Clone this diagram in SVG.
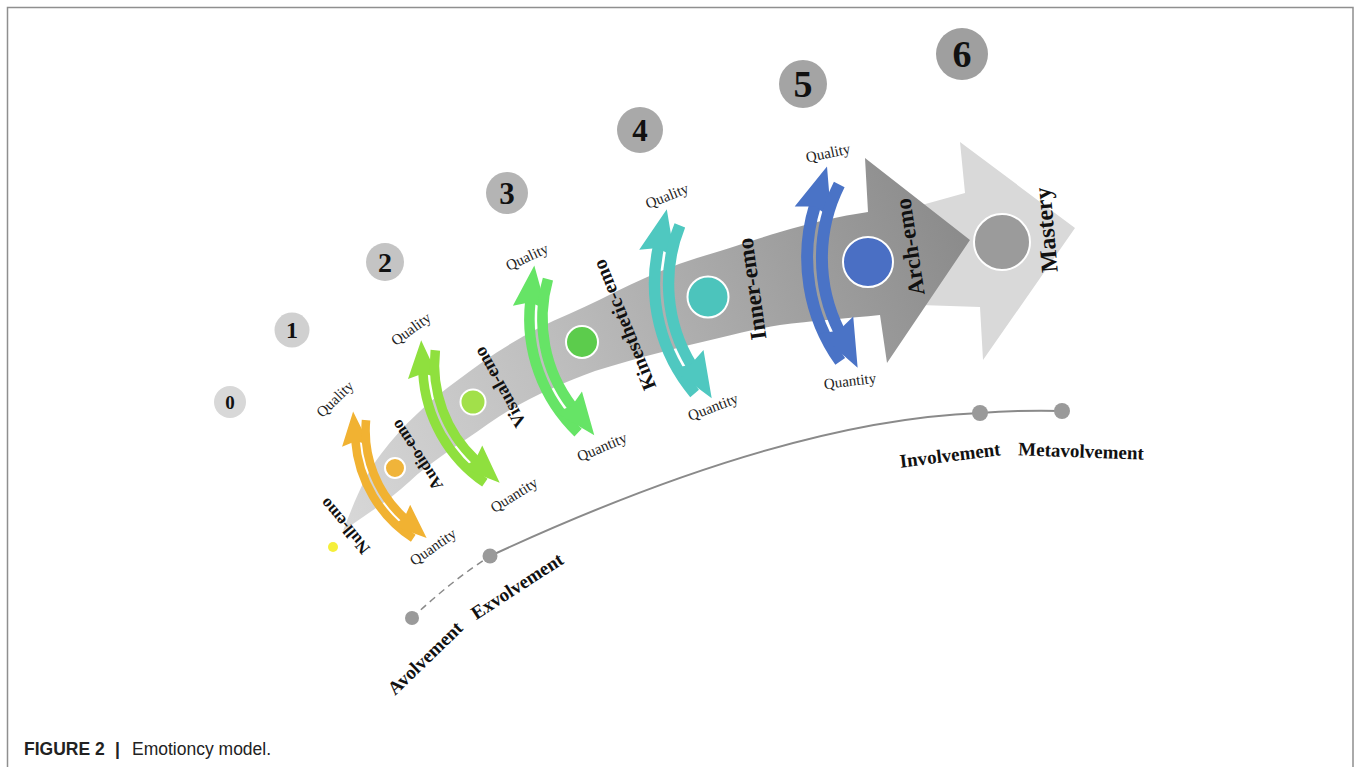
<svg xmlns="http://www.w3.org/2000/svg" width="1354" height="767" viewBox="0 0 1354 767">
<defs>
<style>
.q{font-family:"Liberation Serif",serif;font-size:15px;fill:#222;text-anchor:middle;dominant-baseline:central}
.emo{font-family:"Liberation Serif",serif;font-weight:bold;fill:#111;text-anchor:middle;dominant-baseline:central}
.num{font-family:"Liberation Serif",serif;font-weight:bold;fill:#111;text-anchor:middle}
.stage{font-family:"Liberation Serif",serif;font-weight:bold;font-size:19px;fill:#111;text-anchor:middle;dominant-baseline:central}
.ncirc{stroke:none}
.dot{fill:#9a9a9a}
.arc{fill:none;stroke-width:6}
.emoc{stroke:#fff;stroke-width:2}
</style>
<linearGradient id="band" gradientUnits="userSpaceOnUse" x1="340" y1="530" x2="960" y2="240">
<stop offset="0" stop-color="#d8d8d8"/>
<stop offset="0.4" stop-color="#bdbdbd"/>
<stop offset="0.75" stop-color="#a0a0a0"/>
<stop offset="1" stop-color="#8c8c8c"/>
</linearGradient>
<marker id="hOr" markerUnits="strokeWidth" markerWidth="5" markerHeight="6" viewBox="-1 -3 5 6" refX="0" refY="0" orient="auto" overflow="visible"><path d="M-0.6,-1.6 L3.4,0 L-0.6,1.6 L-0.1,0 z" fill="#f1b232"/></marker>
<marker id="hYg" markerUnits="strokeWidth" markerWidth="5" markerHeight="6" viewBox="-1 -3 5 6" refX="0" refY="0" orient="auto" overflow="visible"><path d="M-0.6,-1.6 L3.4,0 L-0.6,1.6 L-0.1,0 z" fill="#8fe03e"/></marker>
<marker id="hGr" markerUnits="strokeWidth" markerWidth="5" markerHeight="6" viewBox="-1 -3 5 6" refX="0" refY="0" orient="auto" overflow="visible"><path d="M-0.6,-1.6 L3.4,0 L-0.6,1.6 L-0.1,0 z" fill="#66e466"/></marker>
<marker id="hTe" markerUnits="strokeWidth" markerWidth="5" markerHeight="6" viewBox="-1 -3 5 6" refX="0" refY="0" orient="auto" overflow="visible"><path d="M-0.6,-1.6 L3.4,0 L-0.6,1.6 L-0.1,0 z" fill="#4fc8c0"/></marker>
<marker id="hBl" markerUnits="strokeWidth" markerWidth="5" markerHeight="6" viewBox="-1 -3 5 6" refX="0" refY="0" orient="auto" overflow="visible"><path d="M-0.6,-1.6 L3.4,0 L-0.6,1.6 L-0.1,0 z" fill="#4a73c6"/></marker>
</defs>
<rect width="1354" height="767" fill="#fff"/>
<g id="frame" fill="none" stroke="#8f8f8f" stroke-width="1.5">
<path d="M7.5,767 V7.5 H1353 V767"/>
</g>

<g id="mastery-arrow">
<path d="M850,225 L965,193 L960,142 L1075,228 L983,360 L980,307 L860,303 Z" fill="#d9d9d9"/>
</g>
<g id="band-arrow">
<path d="M343,531 C355,500 365,475 381,454 C403,425 430,400 458,380 C490,355 530,330 569,314 C610,296 650,272 697,258 C730,248 760,238 780,232 C810,223 840,216 868,212 L865,158 L970,240 L887,363 L880,315 C850,318 810,321 780,325 C760,328 740,333 719,338 C680,347 640,357 595,371 C560,384 520,401 488,424 C460,444 430,462 409,482 C390,500 365,515 343,531 Z" fill="url(#band)"/>
</g>

<g id="connectors" fill="none" stroke="#8a8a8a" stroke-width="2">
<path d="M412,618 Q450,582 490,556" stroke-dasharray="7,5" stroke-width="1.5"/>
<path d="M490,556 C600,505 800,420 980,413"/>
<path d="M980,413 Q1020,410 1062,411"/>
</g>

<g id="stage-avolvement"><circle class="dot" cx="412" cy="618" r="7"/><text class="stage" transform="translate(425,658) rotate(-44)">Avolvement</text></g>
<g id="stage-exvolvement"><circle class="dot" cx="490" cy="556" r="7.5"/><text class="stage" transform="translate(517,586) rotate(-33)">Exvolvement</text></g>
<g id="stage-involvement"><circle class="dot" cx="980" cy="413" r="8"/><text class="stage" transform="translate(950,455) rotate(-7)">Involvement</text></g>
<g id="stage-metavolvement"><circle class="dot" cx="1062" cy="411" r="8"/><text class="stage" transform="translate(1081,451) rotate(2)">Metavolvement</text></g>

<g id="null-emo">
<circle cx="333" cy="547" r="5" fill="#f5ef3a"/>
<text class="emo" font-size="17" transform="translate(345,526) rotate(-130)">Null-emo</text>
</g>

<g id="audio-emo">
<g transform="translate(394,476) rotate(-26.9) scale(1.43)">
<path class="arc" stroke="#f1b232" d="M-7.67,44.9 A89.8,89.8 0 0 1 -12.87,-34.37" marker-end="url(#hOr)"/>
<path class="arc" stroke="#f1b232" d="M0.22,-43.66 A82.4,82.4 0 0 0 -6.67,29.94" marker-end="url(#hOr)"/>
</g>
<circle class="emoc" cx="395" cy="468" r="10" fill="#f0b43a"/>
<text class="emo" font-size="17" transform="translate(417,455) rotate(-123)">Audio-emo</text>
<text class="q" transform="translate(335,399) rotate(-44)">Quality</text>
<text class="q" transform="translate(433,547) rotate(-35)">Quantity</text>
</g>

<g id="visual-emo">
<g transform="translate(465,413) rotate(-25.6) scale(1.59)">
<path class="arc" stroke="#8fe03e" d="M-7.67,44.9 A89.8,89.8 0 0 1 -12.87,-34.37" marker-end="url(#hYg)"/>
<path class="arc" stroke="#8fe03e" d="M0.22,-43.66 A82.4,82.4 0 0 0 -6.67,29.94" marker-end="url(#hYg)"/>
</g>
<circle class="emoc" cx="473" cy="402" r="12.5" fill="#a2e04a"/>
<text class="emo" font-size="18.5" transform="translate(500,387) rotate(-119)">Visual-emo</text>
<text class="q" transform="translate(411,329) rotate(-36)">Quality</text>
<text class="q" transform="translate(514,495) rotate(-32)">Quantity</text>
</g>

<g id="kinesthetic-emo">
<g transform="translate(569,353) rotate(-16.2) scale(1.76)">
<path class="arc" stroke="#66e466" d="M-7.67,44.9 A89.8,89.8 0 0 1 -12.87,-34.37" marker-end="url(#hGr)"/>
<path class="arc" stroke="#66e466" d="M0.22,-43.66 A82.4,82.4 0 0 0 -6.67,29.94" marker-end="url(#hGr)"/>
</g>
<circle class="emoc" cx="582" cy="342" r="16" fill="#5ccc4c"/>
<text class="emo" font-size="20" transform="translate(624,325) rotate(-112)">Kinesthetic-emo</text>
<text class="q" transform="translate(527,257) rotate(-25)">Quality</text>
<text class="q" transform="translate(602,447) rotate(-23)">Quantity</text>
</g>

<g id="inner-emo">
<g transform="translate(694,307) rotate(-10.1) scale(1.9)">
<path class="arc" stroke="#4fc8c0" d="M-7.67,44.9 A89.8,89.8 0 0 1 -12.87,-34.37" marker-end="url(#hTe)"/>
<path class="arc" stroke="#4fc8c0" d="M0.22,-43.66 A82.4,82.4 0 0 0 -6.67,29.94" marker-end="url(#hTe)"/>
</g>
<circle class="emoc" cx="708" cy="297" r="20.5" fill="#4cc4bc"/>
<text class="emo" font-size="23" transform="translate(752,289) rotate(-98)">Inner-emo</text>
<text class="q" transform="translate(667,196) rotate(-22)">Quality</text>
<text class="q" transform="translate(713,407) rotate(-21)">Quantity</text>
</g>

<g id="arch-emo">
<g transform="translate(847,271) rotate(-5.4) scale(1.99)">
<path class="arc" stroke="#4a73c6" d="M-7.67,44.9 A89.8,89.8 0 0 1 -12.87,-34.37" marker-end="url(#hBl)"/>
<path class="arc" stroke="#4a73c6" d="M0.22,-43.66 A82.4,82.4 0 0 0 -6.67,29.94" marker-end="url(#hBl)"/>
</g>
<circle class="emoc" cx="868" cy="262" r="25" fill="#4a6fc4"/>
<text class="emo" font-size="23" transform="translate(910,247) rotate(-98.5)">Arch-emo</text>
<text class="q" transform="translate(828,153) rotate(-12)">Quality</text>
<text class="q" transform="translate(850,381) rotate(-7)">Quantity</text>
</g>

<g id="mastery">
<circle class="emoc" cx="1002" cy="242" r="28" fill="#9b9b9b" stroke-width="2.5"/>
<text class="emo" font-size="24" transform="translate(1046,230) rotate(-95)">Mastery</text>
</g>

<g id="level-0"><circle class="ncirc" cx="230" cy="402" r="16" fill="#d8d8d8"/><text class="num" x="230" y="408.5" font-size="19">0</text></g>
<g id="level-1"><circle class="ncirc" cx="292" cy="330" r="17.5" fill="#d0d0d0"/><text class="num" x="292" y="338" font-size="24">1</text></g>
<g id="level-2"><circle class="ncirc" cx="385" cy="262" r="19" fill="#c4c4c4"/><text class="num" x="385" y="271.5" font-size="28">2</text></g>
<g id="level-3"><circle class="ncirc" cx="507" cy="193" r="21" fill="#b4b4b4"/><text class="num" x="507" y="203.5" font-size="31">3</text></g>
<g id="level-4"><circle class="ncirc" cx="640" cy="130" r="23" fill="#a9a9a9"/><text class="num" x="640" y="140.5" font-size="31">4</text></g>
<g id="level-5"><circle class="ncirc" cx="803" cy="84" r="24" fill="#a4a4a4"/><text class="num" x="803" y="97" font-size="38">5</text></g>
<g id="level-6"><circle class="ncirc" cx="962" cy="54" r="26" fill="#9f9f9f"/><text class="num" x="962" y="67" font-size="38">6</text></g>

<g id="caption" font-family="'Liberation Sans',Arial,sans-serif" font-size="17.5" fill="#222">
<text x="24" y="755" font-weight="bold">FIGURE 2</text>
<text x="115" y="755" font-weight="bold">|</text>
<text x="132" y="755">Emotioncy model.</text>
</g>
</svg>
